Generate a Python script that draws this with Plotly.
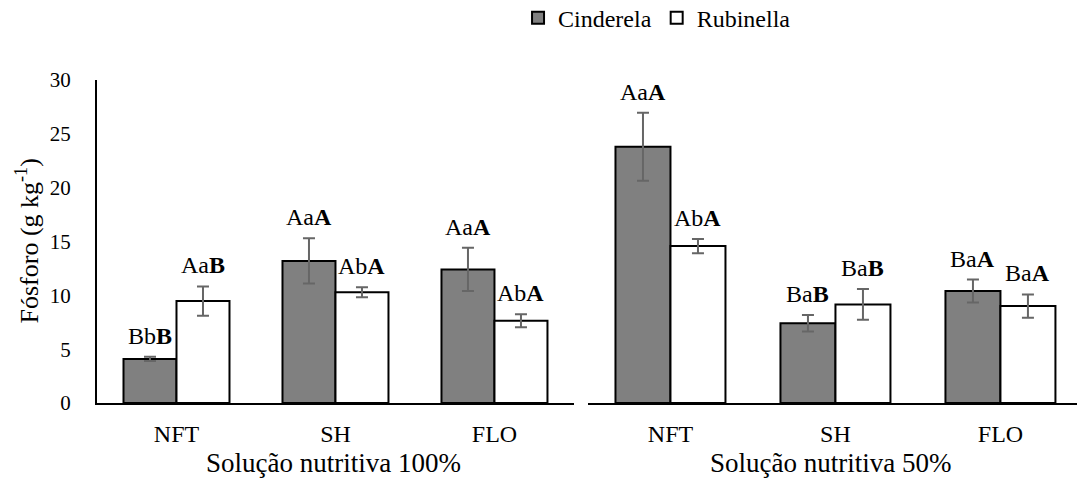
import plotly.graph_objects as go

# Fósforo content by hydroponic system, cultivar and nutrient-solution strength
systems = ["NFT", "SH", "FLO"]
cultivars = ["Cinderela", "Rubinella"]
panels = ["Solução nutritiva 100%", "Solução nutritiva 50%"]

cinderela_100 = [4.09, 13.2, 12.41]
cinderela_100_err = [0.2, 2.1, 2.0]
rubinella_100 = [9.47, 10.28, 7.64]
rubinella_100_err = [1.36, 0.46, 0.6]

cinderela_50 = [23.8, 7.4, 10.4]
cinderela_50_err = [3.15, 0.77, 1.07]
rubinella_50 = [14.58, 9.16, 9.0]
rubinella_50_err = [0.66, 1.42, 1.08]

# Statistical letters (last letter in bold)
letters_cinderela_100 = ["Bb<b>B</b>", "Aa<b>A</b>", "Aa<b>A</b>"]
letters_rubinella_100 = ["Aa<b>B</b>", "Ab<b>A</b>", "Ab<b>A</b>"]
letters_cinderela_50 = ["Aa<b>A</b>", "Ba<b>B</b>", "Ba<b>A</b>"]
letters_rubinella_50 = ["Ab<b>A</b>", "Ba<b>B</b>", "Ba<b>A</b>"]

y_ticks = [0, 5, 10, 15, 20, 25, 30]

FONT = "Liberation Serif, Times New Roman, serif"
fills = {"Cinderela": "#808080", "Rubinella": "#ffffff"}

panel_data = [
    ("x", "y", {"Cinderela": (cinderela_100, cinderela_100_err, letters_cinderela_100),
                "Rubinella": (rubinella_100, rubinella_100_err, letters_rubinella_100)}),
    ("x2", "y2", {"Cinderela": (cinderela_50, cinderela_50_err, letters_cinderela_50),
                  "Rubinella": (rubinella_50, rubinella_50_err, letters_rubinella_50)}),
]

fig = go.Figure()
annotations = []
for p, (xa, ya, series) in enumerate(panel_data):
    for k, name in enumerate(cultivars):
        vals, errs, letters = series[name]
        fig.add_trace(go.Bar(
            x=systems, y=vals, name=name, xaxis=xa, yaxis=ya,
            legendgroup=name, showlegend=(p == 0),
            marker=dict(color=fills[name], line=dict(color="black", width=2)),
            error_y=dict(type="data", array=errs, color="#666666",
                         thickness=2, width=6),
        ))
        offset = -1 / 6 if k == 0 else 1 / 6
        for i, (v, e, t) in enumerate(zip(vals, errs, letters)):
            annotations.append(dict(
                x=i + offset, y=v + e, xref=xa, yref=ya, text=t,
                showarrow=False, yanchor="bottom", xanchor="center",
                yshift=6, font=dict(family=FONT, size=24, color="black"),
            ))

# Group labels under each panel
group_x = [0.2418, 0.7485]
for gx, label in zip(group_x, panels):
    annotations.append(dict(
        x=gx, y=-0.186, xref="paper", yref="paper", text=label,
        showarrow=False, xanchor="center", yanchor="middle",
        font=dict(family=FONT, size=27, color="black"),
    ))

# Y-axis title
annotations.append(dict(
    x=-0.0704, y=0.5, xref="paper", yref="paper",
    text="Fósforo (g kg<sup>-1</sup>)", textangle=-90,
    showarrow=False, xanchor="center", yanchor="middle",
    font=dict(family=FONT, size=26, color="black"),
))

xaxis_common = dict(
    type="category", showline=True, linecolor="black", linewidth=2,
    ticks="", showgrid=False, zeroline=False, ticklabelstandoff=8,
    tickfont=dict(family=FONT, size=24, color="black"),
)

fig.update_layout(
    width=1077, height=488,
    margin=dict(l=97, r=0, t=80, b=85),
    paper_bgcolor="white", plot_bgcolor="white",
    barmode="group", bargap=1 / 3, bargroupgap=0,
    font=dict(family=FONT, color="black"),
    xaxis=dict(domain=[0, 0.4867], range=[-0.5, 2.5], anchor="y", **xaxis_common),
    xaxis2=dict(domain=[0.501, 1], range=[-0.5, 2.464], anchor="y2", **xaxis_common),
    yaxis=dict(
        range=[0, 30], tickvals=y_ticks, showgrid=False, zeroline=False,
        showline=True, linecolor="black", linewidth=2,
        ticks="outside", ticklen=20, tickcolor="rgba(0,0,0,0)",
        tickfont=dict(family=FONT, size=21, color="black"),
    ),
    yaxis2=dict(range=[0, 30], matches="y", anchor="x2", visible=False),
    legend=dict(
        orientation="h", x=0.481, y=0.963, xref="container", yref="container",
        xanchor="left", yanchor="middle",
        font=dict(family=FONT, size=24, color="black"),
        bgcolor="rgba(0,0,0,0)", itemwidth=30, traceorder="normal",
    ),
    annotations=annotations,
)

fig.write_html("out.html")
